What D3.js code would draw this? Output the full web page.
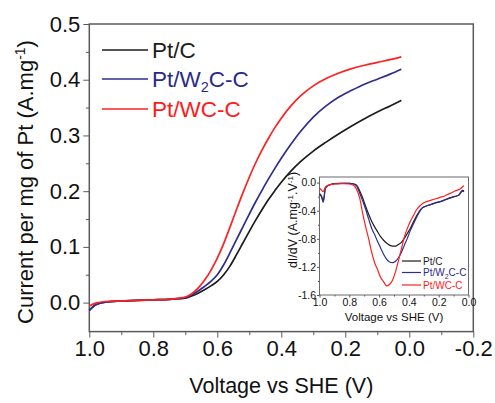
<!DOCTYPE html>
<html>
<head>
<meta charset="utf-8">
<script src="https://cdn.jsdelivr.net/npm/d3@7"></script>
<style>
  html, body { margin: 0; padding: 0; background: #fff; }
  svg { display: block; font-family: "Liberation Sans", Arial, Helvetica, sans-serif; }
</style>
</head>
<body>
<svg id="chart" width="495" height="403"></svg>
<script>
// ---- Linear sweep voltammetry (main panel) ----
const mainVoltage = [1.0, 0.98, 0.95, 0.9, 0.85, 0.8, 0.75, 0.72, 0.70, 0.68, 0.66, 0.64, 0.62, 0.60,
  0.58, 0.56, 0.54, 0.52, 0.50, 0.48, 0.46, 0.44, 0.42, 0.40, 0.37, 0.34, 0.30, 0.26, 0.22,
  0.18, 0.14, 0.10, 0.06, 0.025];
const currentPtC = [-0.014, -0.004, 0.001, 0.003, 0.004, 0.005, 0.006, 0.007, 0.008, 0.012, 0.017, 0.023, 0.030, 0.038,
  0.050, 0.066, 0.086, 0.107, 0.128, 0.148, 0.167, 0.185, 0.201, 0.216, 0.236, 0.253, 0.272, 0.288, 0.303,
  0.317, 0.330, 0.342, 0.353, 0.363];
const currentPtW2C = [-0.014, -0.004, 0.001, 0.003, 0.004, 0.005, 0.006, 0.007, 0.009, 0.014, 0.021, 0.029, 0.038, 0.050,
  0.068, 0.090, 0.113, 0.136, 0.159, 0.181, 0.202, 0.222, 0.241, 0.259, 0.284, 0.307, 0.333, 0.353, 0.369,
  0.381, 0.392, 0.401, 0.410, 0.419];
const currentPtWC = [-0.006, -0.001, 0.002, 0.003, 0.004, 0.005, 0.006, 0.008, 0.010, 0.016, 0.026, 0.040, 0.058, 0.080,
  0.106, 0.136, 0.167, 0.197, 0.225, 0.251, 0.274, 0.295, 0.314, 0.331, 0.353, 0.371, 0.389, 0.402, 0.412,
  0.420, 0.426, 0.431, 0.436, 0.441];

// ---- Derivative dI/dV (inset) ----
const insetVoltage = [1.0, 0.985, 0.975, 0.96, 0.93, 0.9, 0.85, 0.8, 0.77, 0.75, 0.73, 0.71, 0.69, 0.67,
  0.65, 0.63, 0.61, 0.59, 0.57, 0.55, 0.53, 0.51, 0.49, 0.47, 0.45, 0.43, 0.41, 0.39, 0.37, 0.35,
  0.33, 0.31, 0.28, 0.25, 0.22, 0.19, 0.16, 0.13, 0.10, 0.08, 0.065, 0.05, 0.04, 0.03];
const derivPtC = [-0.16, -0.20, -0.27, -0.07, -0.03, -0.015, -0.01, -0.01, -0.02, -0.04, -0.12, -0.22, -0.34, -0.45,
  -0.55, -0.63, -0.70, -0.77, -0.82, -0.86, -0.89, -0.905, -0.905, -0.88, -0.85, -0.79, -0.72, -0.65, -0.56, -0.48,
  -0.41, -0.36, -0.33, -0.31, -0.285, -0.27, -0.245, -0.22, -0.20, -0.19, -0.175, -0.13, -0.11, -0.12];
const derivPtW2C = [-0.17, -0.21, -0.28, -0.08, -0.03, -0.015, -0.01, -0.01, -0.02, -0.05, -0.15, -0.26, -0.38, -0.52,
  -0.65, -0.74, -0.84, -0.93, -1.02, -1.09, -1.13, -1.14, -1.12, -1.07, -0.99, -0.89, -0.79, -0.68, -0.59, -0.50,
  -0.42, -0.36, -0.33, -0.31, -0.29, -0.27, -0.25, -0.225, -0.205, -0.19, -0.18, -0.14, -0.12, -0.13];
const derivPtWC = [-0.08, -0.11, -0.13, -0.06, -0.03, -0.02, -0.015, -0.02, -0.04, -0.10, -0.22, -0.44, -0.63, -0.80,
  -0.99, -1.14, -1.24, -1.35, -1.41, -1.47, -1.45, -1.39, -1.27, -1.11, -0.94, -0.77, -0.65, -0.55, -0.47, -0.39,
  -0.34, -0.30, -0.27, -0.25, -0.23, -0.21, -0.19, -0.16, -0.13, -0.11, -0.10, -0.08, -0.06, -0.045];

// ---- Tick values and labels ----
const mainXTicks = [1.0, 0.8, 0.6, 0.4, 0.2, 0.0, -0.2];
const mainXMinor = [0.9, 0.7, 0.5, 0.3, 0.1, -0.1];
const mainYTicks = [0.0, 0.1, 0.2, 0.3, 0.4, 0.5];
const mainYMinor = [0.05, 0.15, 0.25, 0.35, 0.45];
const insetXTicks = [1.0, 0.8, 0.6, 0.4, 0.2, 0.0];
const insetXMinor = [0.9, 0.7, 0.5, 0.3, 0.1];
const insetYTicks = [0.0, -0.4, -0.8, -1.2, -1.6];
const insetYMinor = [-0.2, -0.6, -1.0, -1.4];

const seriesNames = ["Pt/C", "Pt/W2C-C", "Pt/WC-C"];
const seriesColors = ["#1c1c1c", "#2e2e8e", "#ff2020"];
const legendColors = ["#1c1c1c", "#2a2a8a", "#ff1a1a"];

const mainSeries = [currentPtC, currentPtW2C, currentPtWC];
const insetSeries = [derivPtC, derivPtW2C, derivPtWC];

const fmt = v => d3.format(".1f")(v).replace("\u2212", "-");
const axisColor = "#5a5a5a";

const svg = d3.select("#chart");

// ================= main panel =================
const x = d3.scaleLinear().domain([1.0, -0.2]).range([89.3, 473.3]);
const y = d3.scaleLinear().domain([-0.052, 0.5]).range([331.6, 24]);

function styleAxis(g, fontSize) {
  g.select(".domain").remove();
  g.selectAll(".tick line").attr("stroke", axisColor).attr("stroke-width", 1.3);
  g.selectAll(".tick text").attr("fill", "#111").style("font-size", fontSize + "px")
    .style("font-family", "'Liberation Sans', Arial, sans-serif");
}

// plot frame
svg.append("rect")
  .attr("x", x(1.0)).attr("y", y(0.5))
  .attr("width", x(-0.2) - x(1.0)).attr("height", y(-0.052) - y(0.5))
  .attr("fill", "none").attr("stroke", axisColor).attr("stroke-width", 1.5);

svg.append("g").attr("transform", `translate(0,${y(-0.052)})`)
  .call(d3.axisBottom(x).tickValues(mainXTicks).tickFormat(fmt).tickSize(6).tickSizeOuter(0).tickPadding(3))
  .call(g => styleAxis(g, 22));
svg.append("g").attr("transform", `translate(0,${y(-0.052)})`)
  .call(d3.axisBottom(x).tickValues(mainXMinor).tickFormat("").tickSize(3.5).tickSizeOuter(0))
  .call(g => styleAxis(g, 22));
svg.append("g").attr("transform", `translate(${x(1.0)},0)`)
  .call(d3.axisLeft(y).tickValues(mainYTicks).tickFormat(fmt).tickSize(6).tickSizeOuter(0).tickPadding(3))
  .call(g => styleAxis(g, 22));
svg.append("g").attr("transform", `translate(${x(1.0)},0)`)
  .call(d3.axisLeft(y).tickValues(mainYMinor).tickFormat("").tickSize(3.5).tickSizeOuter(0))
  .call(g => styleAxis(g, 22));

const mainLine = d3.line()
  .x((d, i) => x(mainVoltage[i]))
  .y(d => y(d))
  .curve(d3.curveMonotoneX);

svg.append("g").selectAll("path")
  .data(mainSeries)
  .join("path")
  .attr("d", mainLine)
  .attr("fill", "none")
  .attr("stroke", (d, i) => seriesColors[i])
  .attr("stroke-width", 1.7);

// axis titles
svg.append("text")
  .attr("x", (x(1.0) + x(-0.2)) / 2).attr("y", 393)
  .attr("text-anchor", "middle").style("font-size", "21.5px").attr("fill", "#111")
  .text("Voltage vs SHE (V)");

const yTitle = svg.append("text")
  .attr("transform", "translate(33,182) rotate(-90)")
  .attr("text-anchor", "middle").style("font-size", "22px").attr("fill", "#111");
yTitle.append("tspan").text("Current per mg of Pt (A.mg");
yTitle.append("tspan").attr("dy", -8).style("font-size", "14px").text("-1");
yTitle.append("tspan").attr("dy", 8).text(")");

// legend
const legendY = [50, 79, 109];
const legend = svg.append("g");
seriesNames.forEach((name, i) => {
  legend.append("line")
    .attr("x1", 102).attr("x2", 148).attr("y1", legendY[i]).attr("y2", legendY[i])
    .attr("stroke", seriesColors[i]).attr("stroke-width", 1.7);
  const t = legend.append("text")
    .attr("x", 152).attr("y", legendY[i] + 8)
    .style("font-size", "22.5px").attr("fill", legendColors[i]);
  const m = name.match(/^(.*W)(2)(C.*)$/);
  if (m) {
    t.append("tspan").text(m[1]);
    t.append("tspan").attr("dy", 5).style("font-size", "14.5px").text(m[2]);
    t.append("tspan").attr("dy", -5).text(m[3]);
  } else {
    t.text(name);
  }
});

// ================= inset =================
const ix = d3.scaleLinear().domain([1.0, 0.0]).range([319.5, 468.5]);
const iy = d3.scaleLinear().domain([-1.6, 0.08]).range([295, 177]);

svg.append("rect")
  .attr("x", ix(1.0)).attr("y", iy(0.08))
  .attr("width", ix(0.0) - ix(1.0)).attr("height", iy(-1.6) - iy(0.08))
  .attr("fill", "#fff").attr("stroke", "#6a6a6a").attr("stroke-width", 1);

svg.append("g").attr("transform", `translate(0,${iy(-1.6)})`)
  .call(d3.axisBottom(ix).tickValues(insetXTicks).tickFormat(fmt).tickSize(2.5).tickSizeOuter(0).tickPadding(1))
  .call(g => styleAxis(g, 10.5));
svg.append("g").attr("transform", `translate(0,${iy(-1.6)})`)
  .call(d3.axisBottom(ix).tickValues(insetXMinor).tickFormat("").tickSize(1.5).tickSizeOuter(0))
  .call(g => styleAxis(g, 10.5));
svg.append("g").attr("transform", `translate(${ix(1.0)},0)`)
  .call(d3.axisLeft(iy).tickValues(insetYTicks).tickFormat(fmt).tickSize(2.5).tickSizeOuter(0).tickPadding(1))
  .call(g => styleAxis(g, 10.5));
svg.append("g").attr("transform", `translate(${ix(1.0)},0)`)
  .call(d3.axisLeft(iy).tickValues(insetYMinor).tickFormat("").tickSize(1.5).tickSizeOuter(0))
  .call(g => styleAxis(g, 10.5));
svg.selectAll("g .tick line").attr("stroke-width", 1);

const insetLine = d3.line()
  .x((d, i) => ix(insetVoltage[i]))
  .y(d => iy(d))
  .curve(d3.curveMonotoneX);

svg.append("g").selectAll("path")
  .data(insetSeries)
  .join("path")
  .attr("d", insetLine)
  .attr("fill", "none")
  .attr("stroke", (d, i) => seriesColors[i])
  .attr("stroke-width", 1.2);

svg.append("text")
  .attr("x", 394).attr("y", 321)
  .attr("text-anchor", "middle").style("font-size", "11.5px").attr("fill", "#111")
  .text("Voltage vs SHE (V)");

const iyTitle = svg.append("text")
  .attr("transform", "translate(297,220) rotate(-90)")
  .attr("text-anchor", "middle").style("font-size", "12.5px").attr("fill", "#111");
iyTitle.append("tspan").text("dI/dV (A.mg");
iyTitle.append("tspan").attr("dy", -4).style("font-size", "8px").text("-1");
iyTitle.append("tspan").attr("dy", 4).text(".V");
iyTitle.append("tspan").attr("dy", -4).style("font-size", "8px").text("-1");
iyTitle.append("tspan").attr("dy", 4).text(")");

const insetLegendY = [261, 272.5, 285];
seriesNames.forEach((name, i) => {
  svg.append("line")
    .attr("x1", 402).attr("x2", 421).attr("y1", insetLegendY[i]).attr("y2", insetLegendY[i])
    .attr("stroke", seriesColors[i]).attr("stroke-width", 1.2);
  const t = svg.append("text")
    .attr("x", 423).attr("y", insetLegendY[i] + 3.5)
    .style("font-size", "10px").attr("fill", legendColors[i]);
  const m = name.match(/^(.*W)(2)(C.*)$/);
  if (m) {
    t.append("tspan").text(m[1]);
    t.append("tspan").attr("dy", 2.5).style("font-size", "7px").text(m[2]);
    t.append("tspan").attr("dy", -2.5).text(m[3]);
  } else {
    t.text(name);
  }
});
</script>
</body>
</html>
